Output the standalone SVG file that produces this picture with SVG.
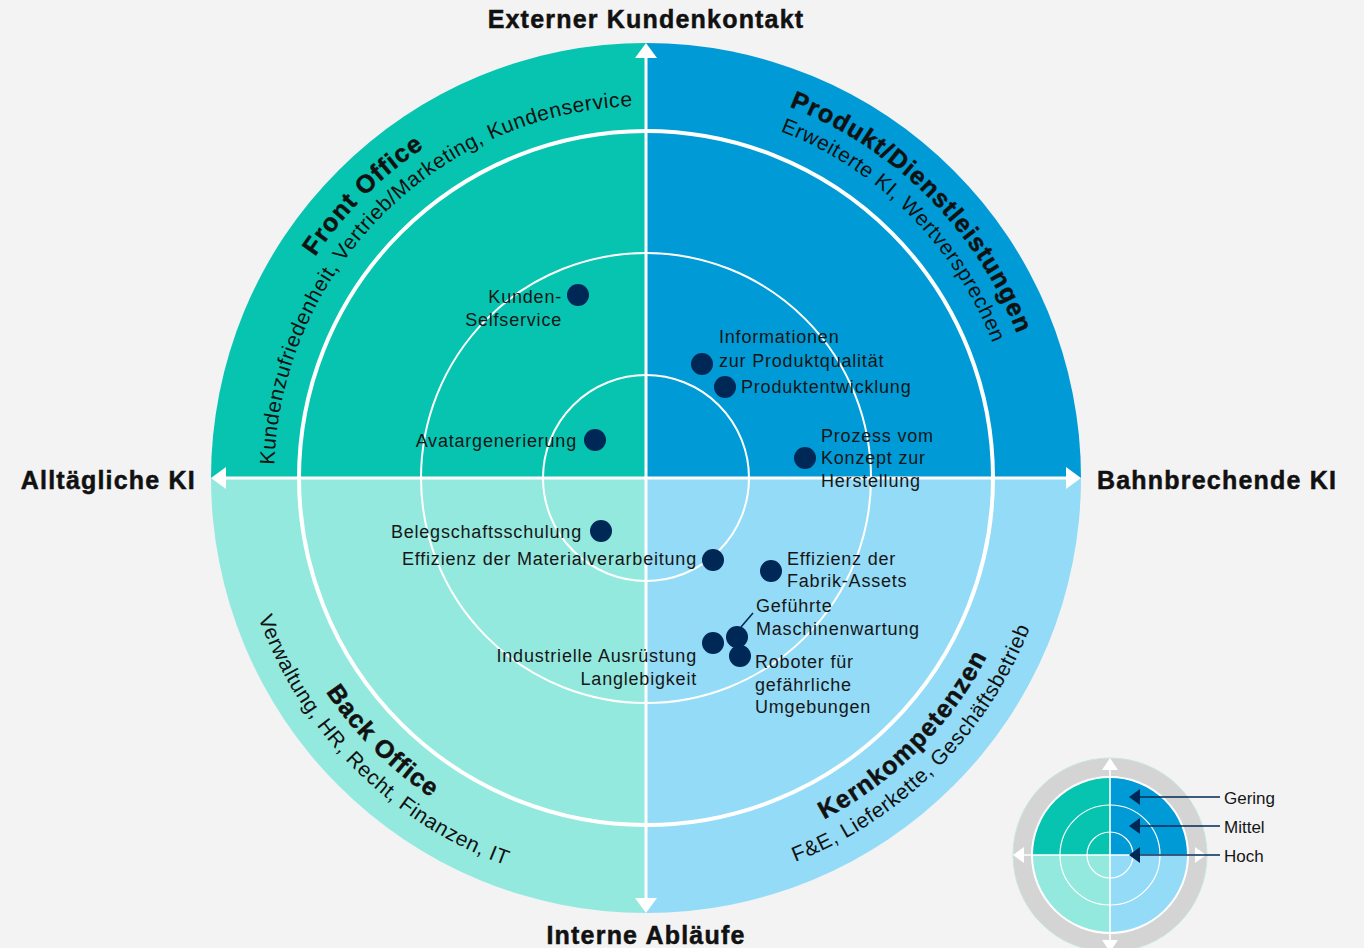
<svg xmlns="http://www.w3.org/2000/svg" xmlns:xlink="http://www.w3.org/1999/xlink" width="1364" height="948" viewBox="0 0 1364 948">
<style>
.lbl{font-family:"Liberation Sans",Arial,sans-serif;font-size:18px;letter-spacing:0.8px;fill:#161616}
.end{text-anchor:end}
.axis{font-family:"Liberation Sans",Arial,sans-serif;font-size:25px;font-weight:700;letter-spacing:1.2px;fill:#111;stroke:#111;stroke-width:0.5px}
.cb{font-family:"Liberation Sans",Arial,sans-serif;font-size:25px;font-weight:700;letter-spacing:1.2px;fill:#111;stroke:#111;stroke-width:0.5px}
.cr{font-family:"Liberation Sans",Arial,sans-serif;font-size:21px;letter-spacing:0.6px;fill:#111}
.dot{fill:#002856}
.ring{fill:none;stroke:#fff}
.leg{font-family:"Liberation Sans",Arial,sans-serif;font-size:17px;fill:#161616}
</style>
<defs>
<path id="tr372" d="M 274,478 A 372 372 0 0 1 1018,478"/>
<path id="tr398" d="M 248,478 A 398 398 0 0 1 1044,478"/>
<path id="br385" d="M 261,478 A 385 385 0 0 0 1031,478"/>
<path id="br412" d="M 234,478 A 412 412 0 0 0 1058,478"/>
</defs>
<rect width="1364" height="948" fill="#f3f3f3"/>

<g id="quadrant-front-office">
<path d="M646,478 L211,478 A435 435 0 0 1 646,43 Z" fill="#06c4b0"/>
<text class="cr"><textPath xlink:href="#tr372" href="#tr372" startOffset="25%" text-anchor="middle">Kundenzufriedenheit, Vertrieb/Marketing, Kundenservice</textPath></text>
<text class="cb"><textPath xlink:href="#tr398" href="#tr398" startOffset="25%" text-anchor="middle">Front Office</textPath></text>
</g>
<g id="quadrant-produkt">
<path d="M646,478 L646,43 A435 435 0 0 1 1081,478 Z" fill="#009bd6"/>
<text class="cr"><textPath xlink:href="#tr372" href="#tr372" startOffset="75%" text-anchor="middle">Erweiterte KI, Wertversprechen</textPath></text>
<text class="cb"><textPath xlink:href="#tr398" href="#tr398" startOffset="75%" text-anchor="middle">Produkt/Dienstleistungen</textPath></text>
</g>
<g id="quadrant-back-office">
<path d="M646,478 L211,478 A435 435 0 0 0 646,913 Z" fill="#94e9df"/>
<text class="cb"><textPath xlink:href="#br385" href="#br385" startOffset="25%" text-anchor="middle">Back Office</textPath></text>
<text class="cr"><textPath xlink:href="#br412" href="#br412" startOffset="25%" text-anchor="middle">Verwaltung, HR, Recht, Finanzen, IT</textPath></text>
</g>
<g id="quadrant-kernkompetenzen">
<path d="M646,478 L646,913 A435 435 0 0 0 1081,478 Z" fill="#93dbf7"/>
<text class="cb"><textPath xlink:href="#br385" href="#br385" startOffset="75%" text-anchor="middle">Kernkompetenzen</textPath></text>
<text class="cr"><textPath xlink:href="#br412" href="#br412" startOffset="75%" text-anchor="middle">F&amp;E, Lieferkette, Geschäftsbetrieb</textPath></text>
</g>

<g id="rings">
<circle class="ring" cx="646" cy="478" r="347" stroke-width="4"/>
<circle class="ring" cx="646" cy="478" r="225" stroke-width="2"/>
<circle class="ring" cx="646" cy="478" r="103" stroke-width="2"/>
</g>

<g id="connectors">
<line x1="646" y1="52" x2="646" y2="904" stroke="#fff" stroke-width="3"/>
<line x1="220" y1="478" x2="1072" y2="478" stroke="#fff" stroke-width="3"/>
<polygon points="646,43 657,58 635,58" fill="#fff"/>
<polygon points="646,913 657,898 635,898" fill="#fff"/>
<polygon points="211,478 226,467 226,489" fill="#fff"/>
<polygon points="1081,478 1066,467 1066,489" fill="#fff"/>
<line x1="741" y1="627" x2="753" y2="613" stroke="#002856" stroke-width="1.6"/>
</g>

<g id="axis-top"><text class="axis" x="646" y="28" text-anchor="middle">Externer Kundenkontakt</text></g>
<g id="axis-left"><text class="axis" x="196" y="489" text-anchor="end">Alltägliche KI</text></g>
<g id="axis-right"><text class="axis" x="1097" y="489">Bahnbrechende KI</text></g>
<g id="axis-bottom"><text class="axis" x="646" y="944" text-anchor="middle">Interne Abläufe</text></g>

<g id="kunden-selfservice"><circle class="dot" cx="578" cy="295" r="11"/><text class="lbl end" x="562" y="303">Kunden-</text><text class="lbl end" x="562" y="326">Selfservice</text></g>
<g id="avatargenerierung"><circle class="dot" cx="595" cy="440" r="11"/><text class="lbl end" x="577" y="447">Avatargenerierung</text></g>
<g id="belegschaftsschulung"><circle class="dot" cx="601" cy="531" r="11"/><text class="lbl end" x="582" y="538">Belegschaftsschulung</text></g>
<g id="materialverarbeitung"><circle class="dot" cx="713" cy="560" r="11"/><text class="lbl end" x="697" y="565">Effizienz der Materialverarbeitung</text></g>
<g id="produktqualitaet"><circle class="dot" cx="702" cy="364" r="11"/><text class="lbl" x="719" y="343">Informationen</text><text class="lbl" x="719" y="367">zur Produktqualität</text></g>
<g id="produktentwicklung"><circle class="dot" cx="725" cy="387" r="11"/><text class="lbl" x="741" y="393">Produktentwicklung</text></g>
<g id="prozess"><circle class="dot" cx="805" cy="458" r="11"/><text class="lbl" x="821" y="442">Prozess vom</text><text class="lbl" x="821" y="464">Konzept zur</text><text class="lbl" x="821" y="487">Herstellung</text></g>
<g id="fabrik-assets"><circle class="dot" cx="771" cy="571" r="11"/><text class="lbl" x="787" y="565">Effizienz der</text><text class="lbl" x="787" y="587">Fabrik-Assets</text></g>
<g id="industrielle-ausruestung"><circle class="dot" cx="713" cy="643" r="11"/><text class="lbl end" x="697" y="662">Industrielle Ausrüstung</text><text class="lbl end" x="697" y="685">Langlebigkeit</text></g>
<g id="maschinenwartung"><circle class="dot" cx="737" cy="637" r="11"/><text class="lbl" x="756" y="612">Geführte</text><text class="lbl" x="756" y="635">Maschinenwartung</text></g>
<g id="roboter"><circle class="dot" cx="740" cy="656" r="11"/><text class="lbl" x="755" y="668">Roboter für</text><text class="lbl" x="755" y="691">gefährliche</text><text class="lbl" x="755" y="713">Umgebungen</text></g>

<g id="legend">
<circle cx="1110" cy="855" r="97" fill="#d4d4d4" stroke="#c8e6e6" stroke-width="1"/>
<path d="M1110,855 L1032,855 A78 78 0 0 1 1110,777 Z" fill="#06c4b0"/>
<path d="M1110,855 L1110,777 A78 78 0 0 1 1188,855 Z" fill="#009bd6"/>
<path d="M1110,855 L1032,855 A78 78 0 0 0 1110,933 Z" fill="#94e9df"/>
<path d="M1110,855 L1110,933 A78 78 0 0 0 1188,855 Z" fill="#93dbf7"/>
<circle class="ring" cx="1110" cy="855" r="78" stroke-width="2"/>
<circle class="ring" cx="1110" cy="855" r="50" stroke-width="1.2"/>
<circle class="ring" cx="1110" cy="855" r="23" stroke-width="1.2"/>
<line x1="1110" y1="765" x2="1110" y2="948" stroke="#fff" stroke-width="1.6"/>
<line x1="1020" y1="855" x2="1200" y2="855" stroke="#fff" stroke-width="1.6"/>
<polygon points="1110,758 1118,770 1102,770" fill="#fff"/>
<polygon points="1110,952 1118,940 1102,940" fill="#fff"/>
<polygon points="1013,855 1024,847 1024,863" fill="#fff"/>
<polygon points="1206,855 1195,847 1195,863" fill="#fff"/>
<line x1="1139" y1="797" x2="1220" y2="797" stroke="#002856" stroke-width="1.6"/>
<line x1="1139" y1="826" x2="1220" y2="826" stroke="#002856" stroke-width="1.6"/>
<line x1="1139" y1="855" x2="1220" y2="855" stroke="#002856" stroke-width="1.6"/>
<polygon points="1129,797 1140,789 1140,805" fill="#002856"/>
<polygon points="1129,826 1140,818 1140,834" fill="#002856"/>
<polygon points="1129,855 1140,847 1140,863" fill="#002856"/>
<text class="leg" x="1224" y="804">Gering</text>
<text class="leg" x="1224" y="833">Mittel</text>
<text class="leg" x="1224" y="862">Hoch</text>
</g>
</svg>
